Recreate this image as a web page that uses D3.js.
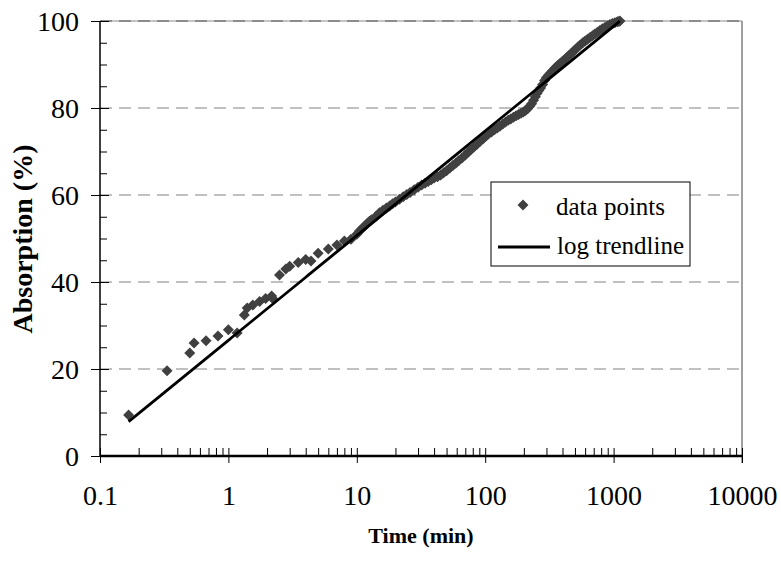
<!DOCTYPE html>
<html>
<head>
<meta charset="utf-8">
<script src="https://cdn.jsdelivr.net/npm/d3@7"></script>
<style>
  html, body { margin: 0; padding: 0; background: #fff; }
  svg { display: block; }
</style>
</head>
<body>
<svg id="chart" width="781" height="566"></svg>
<script>
// Measured absorption versus elapsed time
const timeMin = [
  0.167, 0.333, 0.5, 0.54, 0.67, 0.83, 1.0, 1.17, 1.33, 1.4, 1.55, 1.75, 1.95, 2.17, 2.25,
  2.5, 2.8, 3.0, 3.5, 4.0, 4.4, 5.0, 6.0, 7.0, 8.0, 9.0,
  10, 10.5, 11, 11.5, 12, 12.5, 13, 14, 15, 16, 17, 18, 19, 20, 21.5, 23, 24.5, 26, 28, 30,
  32, 34, 36, 38, 40, 42.5, 45, 47.5, 50, 53, 56, 59, 62, 66, 70, 74, 78, 82, 86, 91, 96, 101,
  106, 112, 118, 124, 130, 137, 144, 151, 158, 166, 174, 182, 190, 198, 206, 214, 222, 230,
  238, 246, 254, 262, 270, 280, 290, 300, 312, 324, 336, 350, 365, 380, 395, 410, 428, 446,
  465, 485, 505, 527, 550, 575, 600, 627, 655, 685, 715, 748, 782, 818, 855, 895, 935, 978,
  1022, 1068, 1100, 1120
];
const absorption = [
  9.4, 19.6, 23.7, 26.0, 26.5, 27.6, 29.0, 28.3, 32.4, 34.0, 34.7, 35.5, 36.2, 36.8, 36.0,
  41.6, 43.0, 43.6, 44.5, 45.2, 44.8, 46.6, 47.6, 48.5, 49.4, 49.8,
  51.0, 51.7, 52.3, 52.9, 53.4, 53.9, 54.3, 55.0, 55.9, 56.5, 57.0, 57.5, 58.0, 58.4, 59.0, 59.6, 60.1, 60.6, 61.2, 61.8,
  62.3, 62.7, 63.1, 63.5, 63.9, 64.2, 64.6, 65.1, 65.6, 66.2, 66.8, 67.3, 67.9, 68.5, 69.2, 69.9, 70.5, 71.1, 71.6, 72.3, 72.9, 73.5,
  74.0, 74.5, 75.0, 75.4, 75.8, 76.3, 76.8, 77.2, 77.5, 77.9, 78.2, 78.5, 78.8, 79.1, 79.4, 79.8, 80.4, 81.0,
  81.8, 82.6, 83.4, 84.0, 84.6, 85.4, 86.3, 87.0, 87.6, 88.1, 88.6, 89.2, 89.7, 90.2, 90.6, 91.0, 91.5, 92.0,
  92.5, 93.0, 93.5, 94.0, 94.5, 95.0, 95.4, 95.8, 96.2, 96.6, 97.0, 97.4, 97.8, 98.2, 98.5, 98.9, 99.2, 99.4,
  99.6, 99.8, 99.9, 100.0
];

// Logarithmic fit: absorption = slope * ln(t) + intercept
const trendSlope = 10.45;
const trendIntercept = 26.6;
const trendRange = [0.167, 1120];

const xTicks = [0.1, 1, 10, 100, 1000, 10000];
const xTickLabels = ["0.1", "1", "10", "100", "1000", "10000"];
const yTicks = [0, 20, 40, 60, 80, 100];
const yMinorTicks = [5, 10, 15, 25, 30, 35, 45, 50, 55, 65, 70, 75, 85, 90, 95];

const serif = "'Liberation Serif', 'Times New Roman', Times, serif";
const svg = d3.select("#chart");
const plot = { left: 100, right: 742, top: 21, bottom: 456 };

const x = d3.scaleLog().domain([0.1, 10000]).range([plot.left, plot.right]);
const y = d3.scaleLinear().domain([0, 100]).range([plot.bottom, plot.top]);

// minor x ticks: 2..9 within each decade
const xMinorTicks = [];
for (let d = 0; d < xTicks.length - 1; d++) {
  for (let k = 2; k <= 9; k++) xMinorTicks.push(+(xTicks[d] * k).toPrecision(6));
}

// horizontal dashed gridlines
svg.append("line")
  .attr("x1", plot.left).attr("x2", plot.right).attr("y1", y(100)).attr("y2", y(100))
  .attr("stroke", "#c4c4c4").attr("stroke-width", 2);
svg.append("g").selectAll("line").data(yTicks.filter(v => v > 0)).join("line")
  .attr("x1", plot.left).attr("x2", plot.right)
  .attr("y1", d => y(d)).attr("y2", d => y(d))
  .attr("stroke", d => d === 100 ? "#8c8c8c" : "#c0c0c0")
  .attr("stroke-width", 2)
  .attr("stroke-dasharray", "12,7");

// right border of the plot area
svg.append("line")
  .attr("x1", plot.right).attr("x2", plot.right).attr("y1", plot.top).attr("y2", plot.bottom + 7)
  .attr("stroke", "#808080").attr("stroke-width", 1.5);

// trendline
const trend = d3.range(0, 201).map(i => {
  const t = Math.exp(Math.log(trendRange[0]) + (Math.log(trendRange[1]) - Math.log(trendRange[0])) * i / 200);
  return [t, Math.min(100, trendSlope * Math.log(t) + trendIntercept)];
});

// data points (diamonds)
const diamond = s => `M0,${-s}L${s},0L0,${s}L${-s},0Z`;
svg.append("g").selectAll("path").data(d3.zip(timeMin, absorption)).join("path")
  .attr("transform", d => `translate(${x(d[0])},${y(d[1])})`)
  .attr("d", diamond(5.5))
  .attr("fill", "#404040");

svg.append("path")
  .datum(trend)
  .attr("d", d3.line().x(d => x(d[0])).y(d => y(d[1])))
  .attr("fill", "none").attr("stroke", "#000").attr("stroke-width", 2.8);

// y axis
const yAxisOut = svg.append("g").attr("transform", `translate(${plot.left},0)`)
  .call(d3.axisLeft(y).tickValues(yTicks).tickSize(9).tickPadding(12).tickFormat(d3.format("d")));
svg.append("g").attr("transform", `translate(${plot.left},0)`)
  .call(d3.axisLeft(y).tickValues(yTicks).tickSize(-9).tickFormat(""))
  .call(g => g.select(".domain").remove());
svg.append("g").attr("transform", `translate(${plot.left},0)`)
  .call(d3.axisLeft(y).tickValues(yMinorTicks).tickSize(-7).tickFormat(""))
  .call(g => g.select(".domain").remove());
yAxisOut.select(".domain").attr("stroke-width", 1.5).attr("d", `M0,${plot.top}V${plot.bottom}`);
yAxisOut.selectAll(".tick text")
  .attr("font-family", serif).attr("font-size", 28).attr("fill", "#000").attr("dy", "0.34em");

// x axis
const xAxisOut = svg.append("g").attr("transform", `translate(0,${plot.bottom})`)
  .call(d3.axisBottom(x).tickValues(xTicks).tickSize(7).tickPadding(22)
    .tickFormat((d, i) => xTickLabels[i]));
svg.append("g").attr("transform", `translate(0,${plot.bottom})`)
  .call(d3.axisBottom(x).tickValues(xTicks).tickSize(-8).tickFormat(""))
  .call(g => g.select(".domain").remove());
svg.append("g").attr("transform", `translate(0,${plot.bottom})`)
  .call(d3.axisBottom(x).tickValues(xMinorTicks).tickSize(-8).tickFormat(""))
  .call(g => g.select(".domain").remove());
xAxisOut.select(".domain").attr("stroke-width", 2.5).attr("d", `M${plot.left},0H${plot.right}`);
xAxisOut.selectAll(".tick text")
  .attr("font-family", serif).attr("font-size", 28).attr("fill", "#000");

svg.selectAll(".tick line").attr("stroke", "#000");

// axis titles
svg.append("text")
  .attr("transform", "translate(32,239) rotate(-90)")
  .attr("text-anchor", "middle")
  .attr("font-family", serif).attr("font-size", 28).attr("font-weight", "bold")
  .text("Absorption (%)");
svg.append("text")
  .attr("x", 421).attr("y", 543)
  .attr("text-anchor", "middle")
  .attr("font-family", serif).attr("font-size", 22).attr("font-weight", "bold")
  .text("Time (min)");

// legend
const legend = svg.append("g");
legend.append("rect")
  .attr("x", 491).attr("y", 182).attr("width", 199).attr("height", 84)
  .attr("fill", "#fff").attr("stroke", "#000").attr("stroke-width", 1);
legend.append("path")
  .attr("transform", "translate(523,205)")
  .attr("d", diamond(5.5)).attr("fill", "#404040");
legend.append("text").attr("x", 556).attr("y", 215)
  .attr("font-family", serif).attr("font-size", 25).text("data points");
legend.append("line")
  .attr("x1", 498).attr("x2", 550).attr("y1", 247).attr("y2", 247)
  .attr("stroke", "#000").attr("stroke-width", 2.8);
legend.append("text").attr("x", 557).attr("y", 254)
  .attr("font-family", serif).attr("font-size", 25).text("log trendline");
</script>
</body>
</html>
